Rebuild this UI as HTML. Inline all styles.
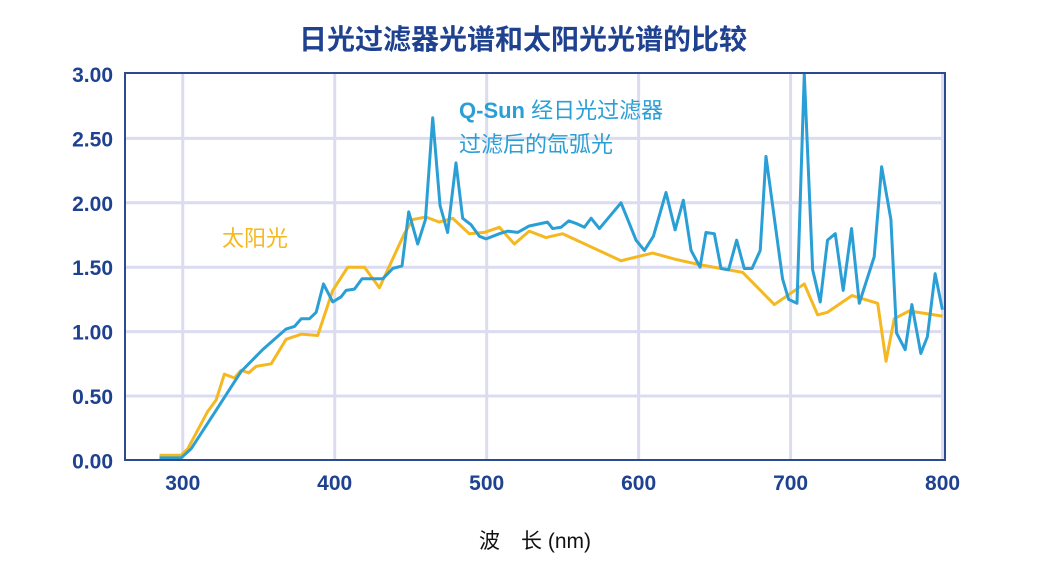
<!DOCTYPE html>
<html><head><meta charset="utf-8"><style>
body{margin:0;background:#fff;width:1045px;height:575px;overflow:hidden}
svg text{font-family:"Liberation Sans","Noto Sans CJK SC",sans-serif}
</style></head><body>
<svg id="chart" width="1045" height="575" xmlns="http://www.w3.org/2000/svg">
<text x="523" y="49" text-anchor="middle" font-size="28" font-weight="bold" fill="#1e4190">日光过滤器光谱和太阳光光谱的比较</text>
<g id="grid"></g>
<g id="lines"></g>
<rect x="125" y="73" width="820" height="387" fill="none" stroke="#2b4a8f" stroke-width="2"/>
<g id="ticks"></g>
<text x="535" y="548" text-anchor="middle" font-size="21" fill="#111">波　长 (nm)</text>
<text x="459" y="118" font-size="22" fill="#2a9fd6"><tspan font-weight="bold">Q-Sun</tspan> 经日光过滤器</text>
<text x="459" y="152" font-size="22" fill="#2a9fd6">过滤后的氙弧光</text>
<text x="222" y="246" font-size="22" fill="#f5b820">太阳光</text>
</svg>
<script>
const xTicks=[300,400,500,600,700,800];
const yTicks=[0,0.5,1,1.5,2,2.5,3];
const qsunNm=[284.7,299,305.5,322,338.4,352.6,368,373.5,378,383.4,387.8,392.6,398.7,404.2,407.5,413,418,422.8,431.6,438.2,444.3,448.7,454.6,459.7,464.5,469.3,474.3,479.8,484.2,489.7,495.2,499.6,508.4,513.8,520.4,528,540,543.4,549,554,558.8,564.3,568.7,574.2,588.4,598.3,603.8,609.7,618,624,629.4,634.5,640.4,644.3,649.8,654.2,659.2,664.5,669.5,674.6,680,683.8,694.7,698.7,704.2,709,714.5,719.5,724.3,729.4,734.6,740.1,745.2,755,759.9,766,769.7,775.4,779.8,785.7,790,795.1,799.9];
const qsunVal=[0.02,0.02,0.09,0.39,0.69,0.86,1.02,1.04,1.10,1.10,1.15,1.37,1.23,1.27,1.32,1.33,1.41,1.41,1.41,1.49,1.51,1.93,1.68,1.87,2.66,1.98,1.77,2.31,1.88,1.83,1.74,1.72,1.76,1.78,1.77,1.82,1.85,1.80,1.81,1.86,1.84,1.81,1.88,1.80,2.00,1.71,1.63,1.74,2.08,1.79,2.02,1.63,1.50,1.77,1.76,1.49,1.48,1.71,1.49,1.49,1.63,2.36,1.41,1.25,1.22,3.00,1.48,1.23,1.71,1.76,1.32,1.80,1.22,1.58,2.28,1.87,0.99,0.86,1.21,0.83,0.96,1.45,1.17];
const sunNm=[284.7,299,303.3,316.4,322,327.4,334,338.4,343.4,348.3,358.2,368,378,388.8,398.7,408.6,419.6,429.4,445.8,451.3,460,468.8,477.6,488.6,498.4,508.4,518.2,528,539,550,588.4,609.2,624.6,640,668.4,689.3,709,717.8,724.3,740.4,757.3,762.8,768.2,778,800];
const sunVal=[0.04,0.04,0.09,0.38,0.47,0.67,0.64,0.70,0.68,0.73,0.75,0.94,0.98,0.97,1.32,1.50,1.50,1.34,1.76,1.87,1.89,1.85,1.88,1.76,1.77,1.81,1.68,1.78,1.73,1.76,1.55,1.61,1.56,1.52,1.46,1.21,1.37,1.13,1.15,1.28,1.22,0.77,1.10,1.16,1.12];
const X0=125,X1=945,XMIN=262,XMAX=801.6,Y0=460.4,Y1=74;
const xs=v=>X0+(v-XMIN)/(XMAX-XMIN)*(X1-X0);
const ys=v=>Y0-(v/3)*(Y0-Y1);
const NS="http://www.w3.org/2000/svg";
function mk(t,a,p){const e=document.createElementNS(NS,t);for(const k in a)e.setAttribute(k,a[k]);p.appendChild(e);return e;}
const grid=document.getElementById('grid'),ticks=document.getElementById('ticks'),lines=document.getElementById('lines');
xTicks.forEach(t=>{
 const l=mk('line',{x1:xs(t),x2:xs(t),y1:73,y2:460,stroke:'#dcdcf0','stroke-width':3},grid);
 
 
 const tx=mk('text',{x:xs(t),y:490,'text-anchor':'middle','font-size':21,'font-weight':'bold',fill:'#1e4190'},ticks);
 tx.textContent=t;
 
 
});
yTicks.forEach(t=>{
 if(t>0&&t<3){const l=mk('line',{x1:125,x2:945,y1:ys(t),y2:ys(t),stroke:'#dcdcf0','stroke-width':3},grid);
 
 }
 const tx=mk('text',{x:113,y:ys(t)+8,'text-anchor':'end','font-size':21,'font-weight':'bold',fill:'#1e4190'},ticks);
 tx.textContent=t.toFixed(2);
 
 
});
function line(nm,val,col,name){
 const p=mk('polyline',{points:nm.map((n,i)=>xs(n)+','+ys(val[i])).join(' '),fill:'none',stroke:col,'stroke-width':3,'stroke-linejoin':'round'},lines);
 
 
}
line(sunNm,sunVal,'#f5b820','sunlight-line');
line(qsunNm,qsunVal,'#2a9fd6','qsun-line');
</script>
</body></html>
